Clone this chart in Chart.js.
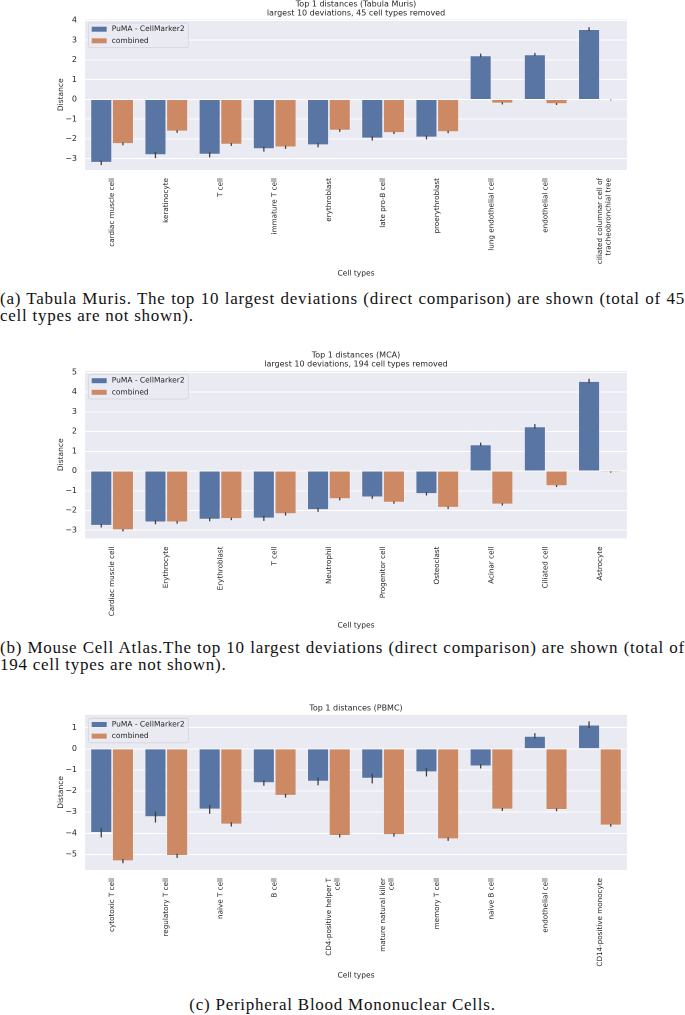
<!DOCTYPE html>
<html>
<head>
<meta charset="utf-8">
<script src="https://cdn.jsdelivr.net/npm/chart.js@4.4.0/dist/chart.umd.min.js"></script>
<style>
  body { margin: 0; background: #fff; width: 685px; height: 1015px; position: relative; overflow: hidden; }
  canvas { position: absolute; left: 0; }
  .cap { position: absolute; left: 0; width: 685px; font-family: "Liberation Serif", serif; font-size: 17px; letter-spacing: 0.75px; line-height: 16.5px; color: #111; }
  .cap .j { display: block; text-align: justify; text-align-last: justify; }
</style>
</head>
<body>
<canvas id="tm" width="685" height="282" style="top:0px"></canvas>
<div class="cap" style="top:291px"><span class="j">(a) Tabula Muris. The top 10 largest deviations (direct comparison) are shown (total of 45</span><span>cell types are not shown).</span></div>
<canvas id="mca" width="685" height="283" style="top:351px"></canvas>
<div class="cap" style="top:640px"><span class="j">(b) Mouse Cell Atlas.The top 10 largest deviations (direct comparison) are shown (total of</span><span>194 cell types are not shown).</span></div>
<canvas id="pbmc" width="685" height="282" style="top:702px"></canvas>
<div class="cap" style="top:997px;text-align:center">(c) Peripheral Blood Mononuclear Cells.</div>
<script>
// Tabula Muris
var tmCells = ['cardiac muscle cell', 'keratinocyte', 'T cell', 'immature T cell', 'erythroblast',
  'late pro-B cell', 'proerythroblast', 'lung endothelial cell', 'endothelial cell',
  ['ciliated columnar cell of', 'tracheobronchial tree']];
var tmPuma = [-3.20, -2.81, -2.79, -2.51, -2.31, -1.97, -1.92, 2.23, 2.28, 3.56];
var tmPumaErr = [0.12, 0.16, 0.14, 0.13, 0.11, 0.11, 0.10, 0.09, 0.08, 0.10];
var tmCombined = [-2.25, -1.62, -2.28, -2.42, -1.57, -1.69, -1.65, -0.20, -0.23, -0.02];
var tmCombinedErr = [0.07, 0.07, 0.07, 0.08, 0.07, 0.06, 0.06, 0.05, 0.05, 0.02];
var tmTicks = [-3, -2, -1, 0, 1, 2, 3, 4];

// Mouse Cell Atlas
var mcaCells = ['Cardiac muscle cell', 'Erythrocyte', 'Erythroblast', 'T cell', 'Neutrophil',
  'Progenitor cell', 'Osteoclast', 'Acinar cell', 'Ciliated cell', 'Astrocyte'];
var mcaPuma = [-2.77, -2.60, -2.46, -2.40, -1.97, -1.33, -1.16, 1.35, 2.26, 4.56];
var mcaPumaErr = [0.09, 0.10, 0.09, 0.13, 0.10, 0.08, 0.08, 0.09, 0.12, 0.12];
var mcaCombined = [-3.00, -2.60, -2.43, -2.18, -1.42, -1.60, -1.86, -1.69, -0.76, -0.05];
var mcaCombinedErr = [0.06, 0.07, 0.06, 0.08, 0.07, 0.06, 0.06, 0.06, 0.05, 0.03];
var mcaTicks = [-3, -2, -1, 0, 1, 2, 3, 4, 5];

// PBMC
var pbmcCells = ['cytotoxic T cell', 'regulatory T cell', 'naive T cell', 'B cell',
  ['CD4-positive helper T', 'cell'], ['mature natural killer', 'cell'], 'memory T cell',
  'naive B cell', 'endothelial cell', 'CD14-positive monocyte'];
var pbmcPuma = [-3.98, -3.23, -2.87, -1.62, -1.55, -1.41, -1.11, -0.83, 0.61, 1.14];
var pbmcPumaErr = [0.22, 0.26, 0.21, 0.13, 0.18, 0.23, 0.20, 0.10, 0.13, 0.16];
var pbmcCombined = [-5.32, -5.07, -3.58, -2.22, -4.12, -4.08, -4.28, -2.87, -2.89, -3.63];
var pbmcCombinedErr = [0.10, 0.10, 0.10, 0.09, 0.08, 0.08, 0.08, 0.07, 0.07, 0.06];
var pbmcTicks = [-5, -4, -3, -2, -1, 0, 1];

var blue = '#5975A4';
var orange = '#CC8963';
var ink = '#262626';

Chart.defaults.font.family = '"DejaVu Sans", sans-serif';
Chart.defaults.color = ink;
Chart.defaults.animation = false;

// grey panel behind the bars
var panel = {
  id: 'panel',
  beforeDraw: function (chart) {
    var a = chart.chartArea, ctx = chart.ctx;
    ctx.save();
    ctx.fillStyle = '#EAEAF2';
    ctx.fillRect(a.left, a.top, a.right - a.left, a.bottom - a.top);
    ctx.restore();
  }
};

// confidence interval lines on each bar
var errorBars = {
  id: 'errorBars',
  afterDatasetsDraw: function (chart) {
    var ctx = chart.ctx, y = chart.scales.y;
    ctx.save();
    ctx.strokeStyle = '#424242';
    ctx.lineWidth = 1.3;
    chart.data.datasets.forEach(function (ds, i) {
      chart.getDatasetMeta(i).data.forEach(function (bar, j) {
        var v = ds.data[j], e = ds.errors[j];
        ctx.beginPath();
        ctx.moveTo(bar.x, y.getPixelForValue(v - e));
        ctx.lineTo(bar.x, y.getPixelForValue(v + e));
        ctx.stroke();
      });
    });
    ctx.restore();
  }
};

// matplotlib-style legend box in the upper left of the plot
var legendBox = {
  id: 'legendBox',
  afterDraw: function (chart) {
    var ctx = chart.ctx, a = chart.chartArea;
    var x = a.left + 3.3, y = a.top + 3.5, w = 100, h = 24.5;
    ctx.save();
    ctx.fillStyle = 'rgba(234,234,242,0.8)';
    ctx.strokeStyle = 'rgba(210,210,215,0.9)';
    ctx.lineWidth = 0.8;
    ctx.beginPath();
    ctx.roundRect(x, y, w, h, 2);
    ctx.fill();
    ctx.stroke();
    ctx.font = '7.5px "DejaVu Sans"';
    ctx.textBaseline = 'middle';
    chart.data.datasets.forEach(function (ds, i) {
      var ry = y + 6.2 + i * 11.6;
      ctx.fillStyle = ds.backgroundColor;
      ctx.fillRect(x + 3.4, ry - 2.5, 15, 5);
      ctx.fillStyle = ink;
      ctx.fillText(ds.label, x + 23.4, ry);
    });
    ctx.restore();
  }
};

function makeChart(id, cats, puma, pumaErr, comb, combErr, ticks, min, max, title, titlePad, xHeight) {
  return new Chart(document.getElementById(id), {
    type: 'bar',
    data: {
      labels: cats,
      datasets: [
        { label: 'PuMA - CellMarker2', data: puma, errors: pumaErr, backgroundColor: blue,
          borderColor: 'rgba(255,255,255,0.3)', borderWidth: 0.8 },
        { label: 'combined', data: comb, errors: combErr, backgroundColor: orange,
          borderColor: 'rgba(255,255,255,0.3)', borderWidth: 0.8 }
      ]
    },
    options: {
      responsive: false,
      devicePixelRatio: 2,
      categoryPercentage: 0.8,
      barPercentage: 1.0,
      layout: { padding: { left: 52.5, right: 58, top: 0, bottom: 0 } },
      plugins: {
        legend: { display: false },
        tooltip: { enabled: false },
        title: {
          display: true, text: title, fullSize: false, color: ink,
          font: { size: 8, weight: 'normal', lineHeight: 1.125 },
          padding: { top: 0, bottom: titlePad }
        }
      },
      scales: {
        x: {
          grid: { display: false, drawTicks: false },
          border: { display: false },
          ticks: { autoSkip: false, maxRotation: 90, minRotation: 90, padding: 8, font: { size: 7.2 } },
          title: { display: true, text: 'Cell types', font: { size: 7.5 }, padding: { top: 4, bottom: 4 } },
          afterFit: function (s) { s.height = xHeight; }
        },
        y: {
          min: min, max: max,
          grid: { color: '#ffffff', lineWidth: 1, drawTicks: false },
          border: { display: false },
          ticks: {
            padding: 8, font: { size: 8 },
            callback: function (v) { return String(v).replace('-', '\u2212'); }
          },
          afterBuildTicks: function (s) { s.ticks = ticks.map(function (v) { return { value: v }; }); },
          title: { display: true, text: 'Distance', font: { size: 7.5 }, padding: { top: 4, bottom: 4 } },
          afterFit: function (s) { s.width = 32.5; }
        }
      }
    },
    plugins: [panel, errorBars, legendBox]
  });
}

makeChart('tm', tmCells, tmPuma, tmPumaErr, tmCombined, tmCombinedErr, tmTicks, -3.57, 4.05,
  ['Top 1 distances (Tabula Muris)', 'largest 10 deviations, 45 cell types removed'], 1.5, 112);
makeChart('mca', mcaCells, mcaPuma, mcaPumaErr, mcaCombined, mcaCombinedErr, mcaTicks, -3.42, 5.07,
  ['Top 1 distances (MCA)', 'largest 10 deviations, 194 cell types removed'], 2, 95.5);
makeChart('pbmc', pbmcCells, pbmcPuma, pbmcPumaErr, pbmcCombined, pbmcCombinedErr, pbmcTicks, -5.74, 1.61,
  'Top 1 distances (PBMC)', 2, 114);
</script>
</body>
</html>
